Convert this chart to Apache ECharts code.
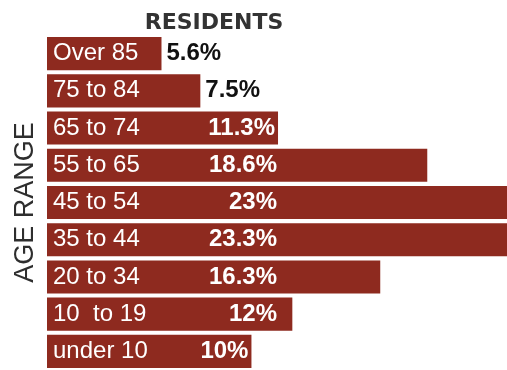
<!DOCTYPE html>
<html lang="en">
  <head>
    <meta charset="UTF-8" />
    <title>Residents by age range</title>
    <script src="https://cdn.jsdelivr.net/npm/echarts@6/dist/echarts.min.js"></script>
    <style>
      html, body { margin: 0; padding: 0; background: #fff; }
      #main { width: 507px; height: 370px; }
    </style>
  </head>
  <body>
    <div id="main"></div>
    <script>
      // data, top bar first
      const ageRanges = ["Over 85", "75 to 84", "65 to 74", "55 to 65", "45 to 54", "35 to 44", "20 to 34", "10  to 19", "under 10"]
      const shares = [5.6, 7.5, 11.3, 18.6, 23, 23.3, 16.3, 12, 10]

      const barColor = "#8e2a1f"
      const font = "Liberation Sans, Arial, sans-serif"

      // value label: outside for short bars, inside otherwise
      const valueData = shares.map((v) => {
        let label
        if (v < 8) {
          label = { position: "right", distance: 5, color: "#111" }
        } else if (v <= 11.3) {
          label = { position: "insideRight", distance: 3, color: "#fff" }
        } else {
          label = { position: [230, "50%"], align: "right", verticalAlign: "middle", color: "#fff" }
        }
        return { value: v, label }
      })

      const chart = echarts.init(document.getElementById("main"))
      chart.setOption({
        backgroundColor: "#fff",
        animation: false,
        title: {
          text: "RESIDENTS",
          left: 209,
          top: 7,
          textAlign: "center",
          textStyle: { fontFamily: "DejaVu Sans", fontWeight: "bold", fontSize: 22, color: "#333" },
        },
        grid: { left: 47, right: 0, top: 35, bottom: 0, containLabel: false },
        xAxis: { type: "value", min: 0, max: 22.5, show: false },
        yAxis: {
          type: "category",
          data: ageRanges,
          inverse: true,
          axisLine: { show: false },
          axisTick: { show: false },
          axisLabel: { show: false },
          splitLine: { show: false },
          name: "AGE RANGE",
          nameLocation: "middle",
          nameRotate: 90,
          nameGap: 8,
          nameTextStyle: { fontFamily: font, fontSize: 27, color: "#2e2e2e", verticalAlign: "bottom" },
        },
        series: [
          {
            type: "bar",
            data: shares,
            barCategoryGap: "11%",
            itemStyle: { color: barColor },
            label: {
              show: true,
              position: "insideLeft",
              distance: 6,
              formatter: "{b}",
              color: "#fff",
              fontFamily: font,
              fontSize: 24,
            },
          },
          {
            type: "bar",
            data: valueData,
            barGap: "-100%",
            barCategoryGap: "11%",
            silent: true,
            itemStyle: { color: "rgba(0,0,0,0)" },
            label: {
              show: true,
              formatter: (p) => p.value + "%",
              fontFamily: font,
              fontWeight: "bold",
              fontSize: 24,
            },
          },
        ],
      })
    </script>
  </body>
</html>
